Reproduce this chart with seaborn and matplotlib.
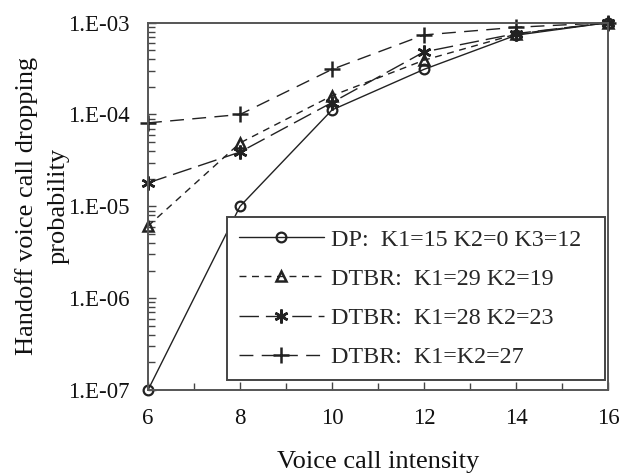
import numpy as np
import matplotlib
matplotlib.use("Agg")
import matplotlib.pyplot as plt
import matplotlib.ticker as mticker
import seaborn as sns

# values
intensity = [6, 8, 10, 12, 14, 16]
dp = [1.0e-7, 1.0e-5, 1.12e-4, 3.1e-4, 7.3e-4, 1.0e-3]
dtbr_29_19 = [6.1e-6, 4.9e-5, 1.6e-4, 3.9e-4, 7.5e-4, 1.0e-3]
dtbr_28_23 = [1.8e-5, 3.9e-5, 1.35e-4, 4.8e-4, 7.6e-4, 1.0e-3]
dtbr_27 = [8.1e-5, 1.0e-4, 3.1e-4, 7.35e-4, 8.9e-4, 1.0e-3]

labels = ["DP:  K1=15 K2=0 K3=12", "DTBR:  K1=29 K2=19",
          "DTBR:  K1=28 K2=23", "DTBR:  K1=K2=27"]

sns.set_style("ticks")
plt.rcParams["font.family"] = ["Liberation Serif", "DejaVu Serif"]

fig = plt.figure(figsize=(6.19, 4.74), dpi=100)
ax = fig.add_axes([0.2391, 0.1772, 0.7431, 0.7750])

col = "#222222"
common = dict(ax=ax, color=col, lw=1.0, markeredgecolor=col, clip_on=False)
# trailing spaces give the legend box its right-hand margin
sns.lineplot(x=intensity, y=dp, linestyle="-", marker="o", markersize=7,
             markerfacecolor="none", markeredgewidth=1.6,
             label=labels[0] + "  ", **common)
sns.lineplot(x=intensity, y=dtbr_29_19, linestyle=(0, (5, 4)), marker="^",
             markersize=7, markerfacecolor="none", markeredgewidth=1.8,
             label=labels[1], **common)
sns.lineplot(x=intensity, y=dtbr_28_23, linestyle=(0, (14, 5)),
             marker=(6, 2, 0), markersize=10, markeredgewidth=1.8,
             label=labels[2], **common)
sns.lineplot(x=intensity, y=dtbr_27, linestyle=(0, (10, 6)), marker="+",
             markersize=11, markeredgewidth=1.8, label=labels[3], **common)

ax.set_yscale("log")
ax.set_xlim(6, 16)
ax.set_ylim(1e-7, 1e-3)
ax.set_xticks([6, 8, 10, 12, 14, 16])
ax.xaxis.set_minor_locator(mticker.MultipleLocator(1))
ax.yaxis.set_major_formatter(mticker.FuncFormatter(
    lambda v, p: "1.E-%02d" % int(round(-np.log10(v)))))
ax.yaxis.set_minor_formatter(mticker.NullFormatter())

ax.tick_params(axis="both", which="both", direction="in", color="#444444",
               width=1.0, top=False, right=False)
ax.tick_params(axis="both", which="major", length=6, pad=13, labelsize=16.5,
               labelcolor="#111111")
ax.tick_params(axis="both", which="minor", length=5)
for s in ax.spines.values():
    s.set_visible(True)
    s.set_color("#555555")
    s.set_linewidth(1.4)

ax.set_xlabel("Voice call intensity", fontsize=19, color="#111111",
              labelpad=16)
ax.set_ylabel("Handoff voice call dropping\nprobability", fontsize=19,
              color="#111111", labelpad=-1, linespacing=1.6)

leg = ax.legend(loc="lower right", bbox_to_anchor=(0.9935, 0.027),
                borderaxespad=0, fontsize=17.3, frameon=True, fancybox=False,
                framealpha=1, edgecolor="#444444", handlelength=3.5,
                handletextpad=0.3, labelspacing=0.72, borderpad=0.5,
                numpoints=1)
leg.get_frame().set_linewidth(1.4)

fig.savefig("out.png", dpi=100)
